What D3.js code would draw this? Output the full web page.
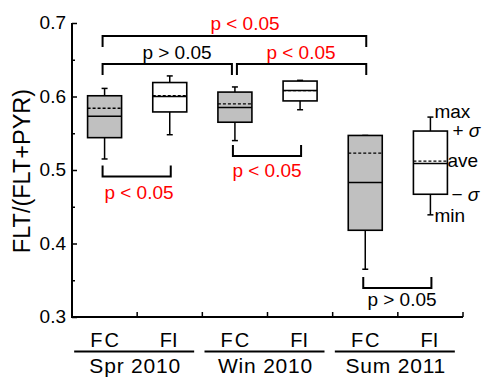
<!DOCTYPE html>
<html>
<head>
<meta charset="utf-8">
<script src="https://cdn.jsdelivr.net/npm/d3@7"></script>
<style>
  body { margin: 0; background: #fff; }
  text { font-family: "Liberation Sans", Arial, sans-serif; }
</style>
</head>
<body>
<div id="chart"></div>
<script>
// groups and treatments
var groups = ["Spr 2010", "Win 2010", "Sum 2011"]
var types = ["FC", "FI"]

// box stats, one entry per box (FC, FI for each group)
var maxV    = [0.611, 0.628, 0.613, 0.622, 0.547, 0.572]
var upperV  = [0.601, 0.619, 0.606, 0.621, 0.547, 0.553]
var meanV   = [0.584, 0.601, 0.590, 0.608, 0.523, 0.512]
var medianV = [0.573, 0.600, 0.585, 0.608, 0.483, 0.509]
var lowerV  = [0.544, 0.579, 0.565, 0.594, 0.418, 0.467]
var minV    = [0.515, 0.548, 0.540, 0.582, 0.365, 0.439]

var yTicks = [0.3, 0.4, 0.5, 0.6, 0.7]
var yMinor = [0.35, 0.45, 0.55, 0.65]

// significance brackets: from box, to box, label, colour
var brackets = [
  {a: 0, b: 4, label: "p < 0.05", red: true,  side: "top", lvl: 36, tx: 245, ty: 30},
  {a: 0, b: 2, label: "p > 0.05", red: false, side: "top", lvl: 64, tx: 177, ty: 59},
  {a: 2, b: 4, label: "p < 0.05", red: true,  side: "top", lvl: 64, tx: 301, ty: 59},
  {a: 0, b: 1, label: "p < 0.05", red: true,  side: "bot", lvl: 176.5, tx: 139, ty: 199},
  {a: 2, b: 3, label: "p < 0.05", red: true,  side: "bot", lvl: 156, tx: 267, ty: 176.5},
  {a: 4, b: 5, label: "p > 0.05", red: false, side: "bot", lvl: 288, tx: 402, ty: 306}
]

var width = 483, height = 378
var margin = {top: 23, right: 20, bottom: 61, left: 72}

var keys = []
groups.forEach(function(g) { types.forEach(function(t) { keys.push(g + "|" + t) }) })

var x = d3.scaleBand()
          .domain(keys)
          .range([margin.left, width - margin.right])
var y = d3.scaleLinear()
          .domain([0.3, 0.7])
          .range([height - margin.bottom, margin.top])

var svg = d3.select("#chart")
            .append("svg")
              .attr("width", width)
              .attr("height", height)

svg.append("rect").attr("width", width).attr("height", height).attr("fill", "#fff")

function cx(i) { return x(keys[i]) + x.bandwidth() / 2 }
var bw = 34

// y axis
var yAxis = svg.append("g")
               .attr("transform", "translate(" + margin.left + ",0)")
               .call(d3.axisRight(y).tickValues(yTicks).tickSize(5).tickFormat(""))
yAxis.select(".domain").attr("stroke-width", 2).attr("d", "M0," + y(0.7) + "V" + y(0.3))
yAxis.selectAll(".tick line").attr("stroke-width", 1.5)

svg.append("g")
   .attr("transform", "translate(" + margin.left + ",0)")
   .call(d3.axisRight(y).tickValues(yMinor).tickSize(3).tickFormat(""))
   .call(function(g) { g.select(".domain").remove() })
   .selectAll(".tick line").attr("stroke-width", 1.5)

svg.selectAll(".ylab")
   .data(yTicks)
   .enter()
   .append("text")
     .attr("x", margin.left - 6)
     .attr("y", function(d) { return y(d) + 6 })
     .attr("text-anchor", "end")
     .attr("font-size", 19)
     .text(function(d) { return d.toFixed(1) })

svg.append("text")
   .attr("transform", "translate(29.5,171) rotate(-90)")
   .attr("text-anchor", "middle")
   .attr("font-size", 23.5)
   .text("FLT/(FLT+PYR)")

// x axis
var xBounds = d3.range(keys.length + 1).map(function(i) { return margin.left + i * x.bandwidth() })
var xg = svg.append("g")
xg.append("line")
  .attr("x1", margin.left - 1).attr("x2", width - margin.right)
  .attr("y1", y(0.3)).attr("y2", y(0.3))
  .attr("stroke", "#000").attr("stroke-width", 2)
xg.selectAll(".xt")
  .data(xBounds.slice(1))
  .enter()
  .append("line")
    .attr("x1", function(d) { return d }).attr("x2", function(d) { return d })
    .attr("y1", y(0.3)).attr("y2", y(0.3) - 5)
    .attr("stroke", "#000").attr("stroke-width", 1.5)

svg.selectAll(".cat")
   .data(keys)
   .enter()
   .append("text")
     .attr("x", function(d, i) { return cx(i) + (i % 2 ? -1 : 1) })
     .attr("y", 346.5)
     .attr("text-anchor", "middle")
     .attr("font-size", 20)
     .attr("letter-spacing", function(d) { return d.split("|")[1] == "FC" ? 2 : 0 })
     .text(function(d) { return d.split("|")[1] })

groups.forEach(function(g, gi) {
  var c = (cx(gi * 2) + cx(gi * 2 + 1)) / 2 - 2
  svg.append("line")
     .attr("x1", c - 61).attr("x2", c + 59)
     .attr("y1", 351.5).attr("y2", 351.5)
     .attr("stroke", "#000").attr("stroke-width", 2)
  svg.append("text")
     .attr("x", c)
     .attr("y", 373)
     .attr("text-anchor", "middle")
     .attr("font-size", 21)
     .attr("letter-spacing", 0.8)
     .text(g)
})

// boxes
var boxes = svg.selectAll(".box")
               .data(keys)
               .enter()
               .append("g")

boxes.append("line")
     .attr("x1", function(d, i) { return cx(i) }).attr("x2", function(d, i) { return cx(i) })
     .attr("y1", function(d, i) { return y(maxV[i]) }).attr("y2", function(d, i) { return y(minV[i]) })
     .attr("stroke", "#000").attr("stroke-width", 1.5)
boxes.append("line")
     .attr("x1", function(d, i) { return cx(i) - 3 }).attr("x2", function(d, i) { return cx(i) + 3 })
     .attr("y1", function(d, i) { return y(maxV[i]) }).attr("y2", function(d, i) { return y(maxV[i]) })
     .attr("stroke", "#000").attr("stroke-width", 1.5)
boxes.append("line")
     .attr("x1", function(d, i) { return cx(i) - 3 }).attr("x2", function(d, i) { return cx(i) + 3 })
     .attr("y1", function(d, i) { return y(minV[i]) }).attr("y2", function(d, i) { return y(minV[i]) })
     .attr("stroke", "#000").attr("stroke-width", 1.5)
boxes.append("rect")
     .attr("x", function(d, i) { return cx(i) - bw / 2 })
     .attr("y", function(d, i) { return y(upperV[i]) })
     .attr("width", bw)
     .attr("height", function(d, i) { return y(lowerV[i]) - y(upperV[i]) })
     .attr("fill", function(d) { return d.split("|")[1] == "FC" ? "#c0c0c0" : "#fff" })
     .attr("stroke", "#000").attr("stroke-width", 1.6)
boxes.append("line")
     .attr("x1", function(d, i) { return cx(i) - bw / 2 }).attr("x2", function(d, i) { return cx(i) + bw / 2 })
     .attr("y1", function(d, i) { return y(meanV[i]) }).attr("y2", function(d, i) { return y(meanV[i]) })
     .attr("stroke", "#000").attr("stroke-width", 1.3).attr("stroke-dasharray", "3,2")
boxes.append("line")
     .attr("x1", function(d, i) { return cx(i) - bw / 2 }).attr("x2", function(d, i) { return cx(i) + bw / 2 })
     .attr("y1", function(d, i) { return y(medianV[i]) }).attr("y2", function(d, i) { return y(medianV[i]) })
     .attr("stroke", "#000").attr("stroke-width", 1.5)

// brackets
brackets.forEach(function(b) {
  var x1 = cx(b.a) - 2, x2 = cx(b.b) + 1
  if (b.a == 2 && b.b == 4) x1 = cx(b.a) + 2
  if (b.a == 0 && b.b == 2) x2 = cx(b.b) - 3
  var leg = b.side == "top" ? 11 : -11
  svg.append("path")
     .attr("d", "M" + x1 + "," + (b.lvl + leg) + "V" + b.lvl + "H" + x2 + "V" + (b.lvl + leg))
     .attr("fill", "none").attr("stroke", "#000").attr("stroke-width", 2)
  svg.append("text")
     .attr("x", b.tx).attr("y", b.ty)
     .attr("text-anchor", "middle")
     .attr("font-size", 19)
     .attr("fill", b.red ? "#ff0000" : "#000")
     .text(b.label)
})

// legend labels on the last box
var li = 5, lx = cx(li)
svg.append("text").attr("x", lx + 4).attr("y", y(maxV[li]) + 1).attr("font-size", 19).text("max")
svg.append("text").attr("x", lx + 4).attr("y", y(minV[li]) + 7).attr("font-size", 19).text("min")
svg.append("text").attr("x", lx + bw / 2).attr("y", y(meanV[li]) + 6).attr("font-size", 19).text("ave")
var sp = svg.append("text").attr("x", lx + bw / 2 + 5).attr("y", y(upperV[li]) + 6).attr("font-size", 19)
sp.append("tspan").text("+ ")
sp.append("tspan").attr("font-style", "italic").text("σ")
var sm = svg.append("text").attr("x", lx + bw / 2 + 4).attr("y", y(lowerV[li]) + 7).attr("font-size", 19)
sm.append("tspan").text("− ")
sm.append("tspan").attr("font-style", "italic").text("σ")
</script>
</body>
</html>
